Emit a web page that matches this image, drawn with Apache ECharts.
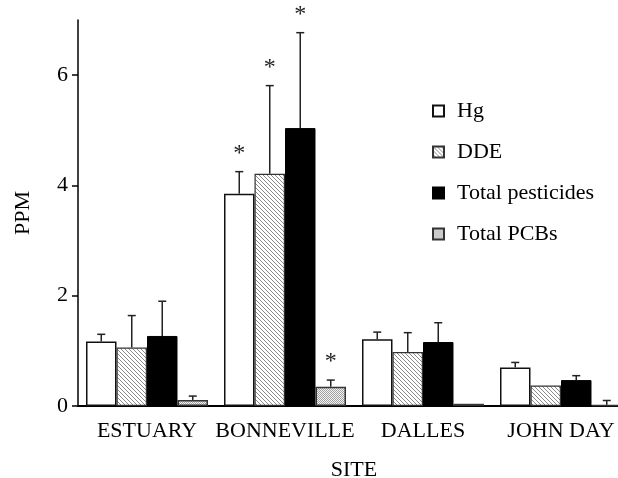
<!DOCTYPE html>
<html>
<head>
<meta charset="utf-8">
<script src="https://cdn.jsdelivr.net/npm/echarts@6/dist/echarts.min.js"></script>
<style>html,body{margin:0;padding:0;background:#fff}#c{width:618px;height:478px}</style>
</head>
<body>
<div id="c"></div>
<script>
const sites = ['ESTUARY', 'BONNEVILLE', 'DALLES', 'JOHN DAY'];
const seriesNames = ['Hg', 'DDE', 'Total pesticides', 'Total PCBs'];
const hg = [1.17, 3.85, 1.21, 0.70];
const dde = [1.06, 4.21, 0.98, 0.37];
const pest = [1.27, 5.04, 1.16, 0.47];
const pcb = [0.11, 0.35, 0.04, 0.02];
// upper end of error bars (null = none drawn)
const hgErr = [1.30, 4.25, 1.34, 0.79];
const ddeErr = [1.64, 5.81, 1.33, null];
const pestErr = [1.90, 6.77, 1.51, 0.55];
const pcbErr = [0.18, 0.47, null, 0.10];
// significance markers
const hgStar = [false, true, false, false];
const ddeStar = [false, true, false, false];
const pestStar = [false, true, false, false];
const pcbStar = [false, true, false, false];
const yTicks = [0, 2, 4, 6];

const FONT = 'Liberation Serif';

function makePattern(type) {
  const c = document.createElement('canvas');
  const ctx = c.getContext('2d');
  if (type === 'hatch') {
    c.width = 4; c.height = 4;
    ctx.fillStyle = '#fff'; ctx.fillRect(0, 0, 4, 4);
    ctx.fillStyle = '#8a8a8a';
    for (let i = 0; i < 4; i++) ctx.fillRect(i, i, 1, 1);
  } else {
    c.width = 2; c.height = 2;
    ctx.fillStyle = '#f4f4f4'; ctx.fillRect(0, 0, 2, 2);
    ctx.fillStyle = '#a0a0a0';
    ctx.fillRect(0, 0, 1, 1); ctx.fillRect(1, 1, 1, 1);
  }
  return { image: c, repeat: 'repeat' };
}

const vals = [hg, dde, pest, pcb];
const errs = [hgErr, ddeErr, pestErr, pcbErr];
const stars = [hgStar, ddeStar, pestStar, pcbStar];
const styles = [
  { color: '#fff', borderColor: '#111', borderWidth: 1.5 },
  { color: makePattern('hatch'), borderColor: '#333', borderWidth: 1.2 },
  { color: '#000', borderColor: '#000', borderWidth: 1 },
  { color: makePattern('dots'), borderColor: '#333', borderWidth: 1.5 }
];
const GAP = 0.116;

const errData = [];
for (let s = 0; s < 4; s++) {
  for (let k = 0; k < sites.length; k++) {
    errData.push([k, s, vals[s][k], errs[s][k], stars[s][k] ? 1 : 0]);
  }
}

const chart = echarts.init(document.getElementById('c'));
const barSeries = seriesNames.map((n, i) => ({
  name: n, type: 'bar', data: vals[i],
  barGap: 0, barCategoryGap: (GAP * 100) + '%',
  itemStyle: styles[i]
}));

chart.setOption({
  animation: false,
  textStyle: { fontFamily: FONT },
  grid: { left: 78, width: 552, top: 20, bottom: 72, outerBoundsMode: 'none', containLabel: false },
  legend: {
    data: seriesNames, orient: 'vertical', left: 432, top: 100, padding: 0,
    itemWidth: 11, itemHeight: 11, itemGap: 19, icon: 'rect',
    textStyle: { fontFamily: FONT, fontSize: 22, color: '#000', padding: [0, 0, 0, 8] }
  },
  xAxis: {
    type: 'category', data: sites,
    name: 'SITE', nameLocation: 'middle', nameGap: 53,
    nameTextStyle: { fontFamily: FONT, fontSize: 22, color: '#000' },
    axisLine: { lineStyle: { color: '#000', width: 2 } },
    axisTick: { alignWithLabel: true, length: 6, lineStyle: { color: '#000', width: 1.5 } },
    axisLabel: { fontFamily: FONT, fontSize: 22, color: '#000', margin: 14, interval: 0 }
  },
  yAxis: {
    type: 'value', min: 0, max: 7, interval: 1,
    name: 'PPM', nameLocation: 'middle', nameGap: 44,
    nameTextStyle: { fontFamily: FONT, fontSize: 22, color: '#000' },
    axisLine: { show: true, lineStyle: { color: '#000', width: 1.5 } },
    axisTick: { show: true, length: 6, customValues: yTicks, lineStyle: { color: '#000', width: 1.5 } },
    axisLabel: { fontFamily: FONT, fontSize: 22, color: '#000', margin: 10, customValues: yTicks, padding: [3, 0, 0, 0] },
    splitLine: { show: false }
  },
  series: barSeries.concat([{
    type: 'custom', data: errData, z: 5, silent: true,
    encode: { x: 0, y: 3 },
    renderItem: function (params, api) {
      const k = api.value(0), s = api.value(1), v = api.value(2), e = api.value(3), st = api.value(4);
      const band = api.size([1, 0])[0];
      const bw = band * (1 - GAP) / 4;
      const c = api.coord([k, 0]);
      const x = c[0] + (s - 1.5) * bw;
      const yv = api.coord([k, v])[1];
      const children = [];
      let topY = yv;
      if (e !== null && !isNaN(e)) {
        const ye = api.coord([k, e])[1];
        topY = ye;
        const ls = { stroke: '#222', lineWidth: 1.5 };
        children.push({ type: 'line', shape: { x1: x, y1: yv, x2: x, y2: ye }, style: ls });
        children.push({ type: 'line', shape: { x1: x - 4, y1: ye, x2: x + 4, y2: ye }, style: ls });
      }
      if (st) {
        children.push({ type: 'text', style: { text: '*', x: x, y: topY - 18, align: 'center', verticalAlign: 'middle', fontFamily: FONT, fontSize: 24, fill: '#222' } });
      }
      return { type: 'group', children: children };
    }
  }])
});
</script>
</body>
</html>
